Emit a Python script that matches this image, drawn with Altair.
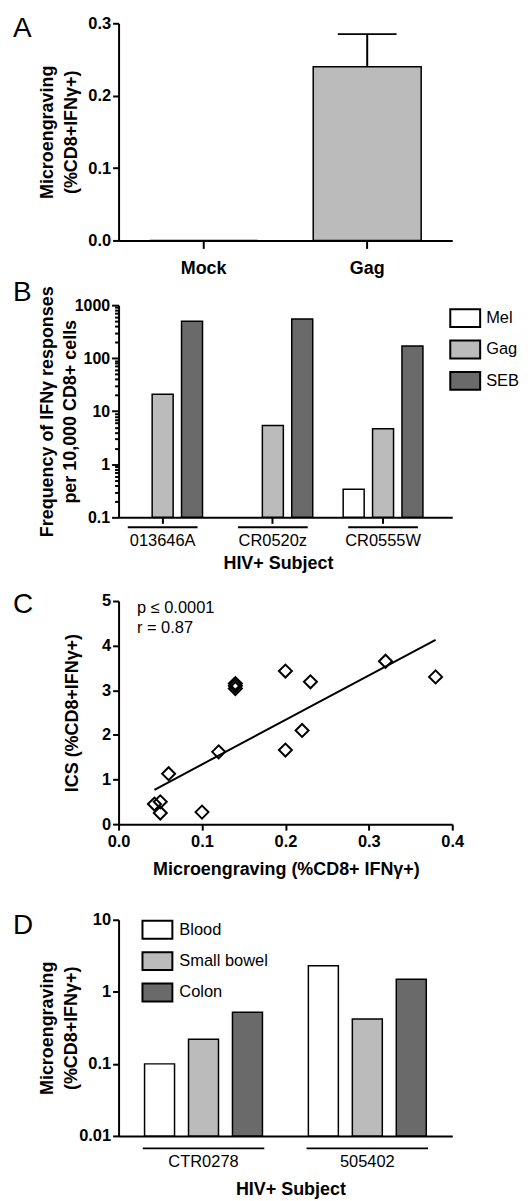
import json
import altair as alt
import pandas as pd

FONT = "Liberation Sans"

# ---------------- data ----------------
# Panel A
a_cats = ["Mock", "Gag"]
a_vals = [0.0, 0.24]
a_err = [0.0, 0.045]

# Panel B
b_subjects = ["013646A", "CR0520z", "CR0555W"]
b_stims = ["Mel", "Gag", "SEB"]
b_mel = [None, None, 0.34]
b_gag = [21.0, 5.4, 4.7]
b_seb = [500.0, 550.0, 170.0]
b_decades = [0.1, 1, 10, 100, 1000]

# Panel C
c_x = [0.043, 0.05, 0.05, 0.06, 0.10, 0.12, 0.14, 0.14, 0.14, 0.20, 0.20, 0.22, 0.23, 0.32, 0.38]
c_y = [0.45, 0.50, 0.25, 1.13, 0.27, 1.62, 3.15, 3.10, 3.04, 3.43, 1.66, 2.10, 3.19, 3.65, 3.30]
c_fit_x = [0.043, 0.38]
c_fit_y = [0.77, 4.13]
c_notes = ["p ≤ 0.0001", "r = 0.87"]
c_note_x = [0.022, 0.022]
c_note_y = [4.74, 4.28]

# Panel D
d_subjects = ["CTR0278", "505402"]
d_tissues = ["Blood", "Small bowel", "Colon"]
d_blood = [0.10, 2.3]
d_small = [0.22, 0.42]
d_colon = [0.52, 1.5]
d_decades = [0.01, 0.1, 1, 10]

fill_colors = ["#ffffff", "#bbbbbb", "#6a6a6a"]

W = 335
LEG_PATH = "M-1.6667,-1H1.6667V1H-1.6667Z"
TWO_LINE_X = -71

AX = dict(domainColor="black", domainWidth=2, tickColor="black", tickWidth=2,
          labelColor="black", titleColor="black", labelFont=FONT, titleFont=FONT,
          grid=False, titleFontSize=18, titleFontWeight="bold")


def letter(ch, y):
    return alt.Chart(pd.DataFrame({"t": [ch]})).mark_text(
        align="left", baseline="alphabetic", fontSize=28, font=FONT, color="black"
    ).encode(text="t:N", x=alt.value(-106), y=alt.value(y))


def extent(top, bottom):
    return alt.Chart(pd.DataFrame({"k": [0]})).mark_rule(
        strokeOpacity=0, opacity=0
    ).encode(x=alt.value(-106), y=alt.value(-top), y2=alt.value(bottom))


# ---------------- Panel A ----------------
HA = 218
dfA = pd.DataFrame({"cat": a_cats, "val": a_vals,
                    "hi": [v + e for v, e in zip(a_vals, a_err)], "err": a_err})
xA_scale = alt.Scale(paddingInner=0.34, paddingOuter=0.19)
yA_scale = alt.Scale(domain=[0, 0.3], nice=False)
xA_axis = alt.Axis(**AX, labelFontSize=18, labelFontWeight="bold", tickSize=8,
                   labelPadding=25, labelBaseline="alphabetic", labelAngle=0, title=None)
yA_axis = alt.Axis(**AX, values=[0, 0.1, 0.2, 0.3], format=".1f", labelFontSize=16.5,
                   labelFontWeight="bold", tickSize=6, labelPadding=2,
                   title=["Microengraving", "(%CD8+IFNγ+)"], titleX=TWO_LINE_X,
                   titleBaseline="middle", titleLineHeight=23.5, titleAngle=270)
xA = alt.X("cat:N", sort=a_cats, scale=xA_scale, axis=xA_axis)
barsA = alt.Chart(dfA).mark_bar(fill="#bbbbbb", stroke="black", strokeWidth=1.5).encode(
    x=xA, y=alt.Y("val:Q", scale=yA_scale, axis=yA_axis))
errA = alt.Chart(dfA[dfA["err"] > 0]).mark_rule(color="black", strokeWidth=2).encode(
    x=xA, y=alt.Y("val:Q", scale=yA_scale, axis=yA_axis), y2="hi:Q")
capA = alt.Chart(dfA[dfA["err"] > 0]).mark_tick(
    orient="horizontal", size=59, thickness=2, color="black", opacity=1).encode(
    x=xA, y=alt.Y("hi:Q", scale=yA_scale, axis=yA_axis))
panelA = alt.layer(barsA, errA, capA, letter("A", 14), extent(13, HA + 38)).properties(
    width=W, height=HA)

# ---------------- Panel B ----------------
HB = 213
rowsB = []
for i, s in enumerate(b_subjects):
    for stim, arr in zip(b_stims, [b_mel, b_gag, b_seb]):
        if arr[i] is not None:
            rowsB.append({"subject": s, "stim": stim, "value": arr[i]})
dfB = pd.DataFrame(rowsB)
b_ticks = [round(d * k, 6) for d in b_decades[:-1] for k in range(1, 10)] + [b_decades[-1]]
b_test = "indexof(" + json.dumps(b_decades) + ", datum.value) >= 0"
xB_scale = alt.Scale(paddingInner=0.2, paddingOuter=0.114, align=0)
yB_scale = alt.Scale(type="log", domain=[0.1, 1000], nice=False)
xB_axis = alt.Axis(**AX, labelFontSize=16.5, labelFontWeight="normal", tickSize=6,
                   labelPadding=22, labelBaseline="alphabetic", labelAngle=0,
                   title="HIV+ Subject", titleBaseline="alphabetic", titleY=51, titleX=160)
yB_axis = alt.Axis(**AX, values=b_ticks, format="~g",
                   labelExpr=b_test + " ? datum.label : ''", labelOverlap=False,
                   labelFontSize=16, labelFontWeight="bold", labelPadding=2,
                   tickSize={"condition": {"test": b_test, "value": 7}, "value": 4},
                   title=["Frequency of IFNγ responses", "per 10,000 CD8+ cells"],
                   titleX=TWO_LINE_X, titleBaseline="middle", titleLineHeight=23,
                   titleAngle=270)
xB = alt.X("subject:N", sort=b_subjects, scale=xB_scale, axis=xB_axis)
barsB = alt.Chart(dfB).mark_bar(stroke="black", strokeWidth=1.5).encode(
    x=xB,
    xOffset=alt.XOffset("stim:N", sort=b_stims,
                        scale=alt.Scale(domain=b_stims, paddingInner=0.286,
                                        paddingOuter=0.143)),
    y=alt.Y("value:Q", scale=yB_scale, axis=yB_axis),
    y2=alt.datum(0.1),
    fill=alt.Fill("stim:N", sort=b_stims,
                  scale=alt.Scale(domain=b_stims, range=fill_colors),
                  legend=alt.Legend(title=None, orient="none", legendX=338, legendY=3,
                                    symbolType=LEG_PATH, symbolSize=324,
                                    symbolStrokeColor="black", symbolStrokeWidth=2,
                                    labelFontSize=16.5, labelFont=FONT, labelColor="black",
                                    labelOffset=11, rowPadding=5.5, padding=0)),
)
lineB = alt.Chart(pd.DataFrame({"subject": b_subjects})).mark_tick(
    orient="horizontal", size=70, thickness=2, color="black", opacity=1).encode(
    x=xB, y=alt.value(HB + 10))
panelB = alt.layer(barsB, lineB, letter("B", -4), extent(27, HB + 64)).properties(
    width=W, height=HB)

# ---------------- Panel C ----------------
HC = 224
dfC = pd.DataFrame({"x": c_x, "y": c_y})
dfFit = pd.DataFrame({"x": c_fit_x, "y": c_fit_y})
dfNote = pd.DataFrame({"x": c_note_x, "y": c_note_y, "t": c_notes})
xC_scale = alt.Scale(domain=[0, 0.4], nice=False)
yC_scale = alt.Scale(domain=[0, 5], nice=False)
xC_axis = alt.Axis(**AX, values=[0, 0.1, 0.2, 0.3, 0.4], format=".1f", labelFlush=False,
                   tickSize=6, labelPadding=16, labelBaseline="alphabetic",
                   labelFontSize=16.5, labelFontWeight="bold",
                   title="Microengraving (%CD8+ IFNγ+)", titleBaseline="alphabetic",
                   titleY=51, titleX=168)
yC_axis = alt.Axis(**AX, values=[0, 1, 2, 3, 4, 5], format="d", tickSize=6, labelPadding=2,
                   labelFontSize=16.5, labelFontWeight="bold", labelFlush=False,
                   title="ICS (%CD8+IFNγ+)", titleX=-46, titleBaseline="middle",
                   titleAngle=270)
xC = alt.X("x:Q", scale=xC_scale, axis=xC_axis)
yC = alt.Y("y:Q", scale=yC_scale, axis=yC_axis)
ptsC = alt.Chart(dfC).mark_point(shape="diamond", filled=False, stroke="black",
                                  strokeWidth=2, size=170, opacity=1).encode(x=xC, y=yC)
fitC = alt.Chart(dfFit).mark_line(color="black", strokeWidth=2).encode(x=xC, y=yC)
noteC = alt.Chart(dfNote).mark_text(align="left", baseline="alphabetic", fontSize=16.5,
                                    font=FONT, color="black").encode(x=xC, y=yC, text="t:N")
panelC = alt.layer(fitC, ptsC, noteC, letter("C", 12), extent(20, HC + 66)).properties(
    width=W, height=HC)

# ---------------- Panel D ----------------
HD = 217
rowsD = []
for i, s in enumerate(d_subjects):
    for t, arr in zip(d_tissues, [d_blood, d_small, d_colon]):
        rowsD.append({"subject": s, "tissue": t, "value": arr[i]})
dfD = pd.DataFrame(rowsD)
xD_scale = alt.Scale(paddingInner=0.195, paddingOuter=0.116)
yD_scale = alt.Scale(type="log", domain=[0.01, 10], nice=False)
xD_axis = alt.Axis(**AX, labelFontSize=16.5, labelFontWeight="normal", ticks=False,
                   tickSize=0, labelPadding=31, labelBaseline="alphabetic", labelAngle=0,
                   title="HIV+ Subject", titleBaseline="alphabetic", titleY=59, titleX=172.5)
yD_axis = alt.Axis(**AX, values=d_decades, format="~g", labelOverlap=False,
                   labelFontSize=16.5, labelFontWeight="bold", labelPadding=2, tickSize=6,
                   title=["Microengraving", "(%CD8+IFNγ+)"], titleX=TWO_LINE_X,
                   titleBaseline="middle", titleLineHeight=23.5, titleAngle=270)
xD = alt.X("subject:N", sort=d_subjects, scale=xD_scale, axis=xD_axis)
barsD = alt.Chart(dfD).mark_bar(stroke="black", strokeWidth=1.5).encode(
    x=xD,
    xOffset=alt.XOffset("tissue:N", sort=d_tissues,
                        scale=alt.Scale(domain=d_tissues, paddingInner=0.318,
                                        paddingOuter=0.159)),
    y=alt.Y("value:Q", scale=yD_scale, axis=yD_axis),
    y2=alt.datum(0.01),
    fill=alt.Fill("tissue:N", sort=d_tissues,
                  scale=alt.Scale(domain=d_tissues, range=fill_colors),
                  legend=alt.Legend(title=None, orient="none", legendX=29, legendY=0,
                                    symbolType=LEG_PATH, symbolSize=324,
                                    symbolStrokeColor="black", symbolStrokeWidth=2,
                                    labelFontSize=16.5, labelFont=FONT, labelColor="black",
                                    labelOffset=12, rowPadding=5.5, padding=0)),
)
lineD = alt.Chart(pd.DataFrame({"subject": d_subjects})).mark_tick(
    orient="horizontal", size=122, thickness=2, color="black", opacity=1).encode(
    x=xD, y=alt.value(HD + 12.5))
panelD = alt.layer(barsD, lineD, letter("D", 14), extent(30, HD + 62)).properties(
    width=W, height=HD)

chart = alt.vconcat(panelA, panelB, panelC, panelD, spacing=0).resolve_scale(
    fill="independent", xOffset="independent").resolve_legend(
    fill="independent").configure_view(
    stroke=None).properties(padding={"left": 5, "top": 0, "right": 0, "bottom": 0})

chart.save("out.html", embed_options={"renderer": "svg", "actions": False})
